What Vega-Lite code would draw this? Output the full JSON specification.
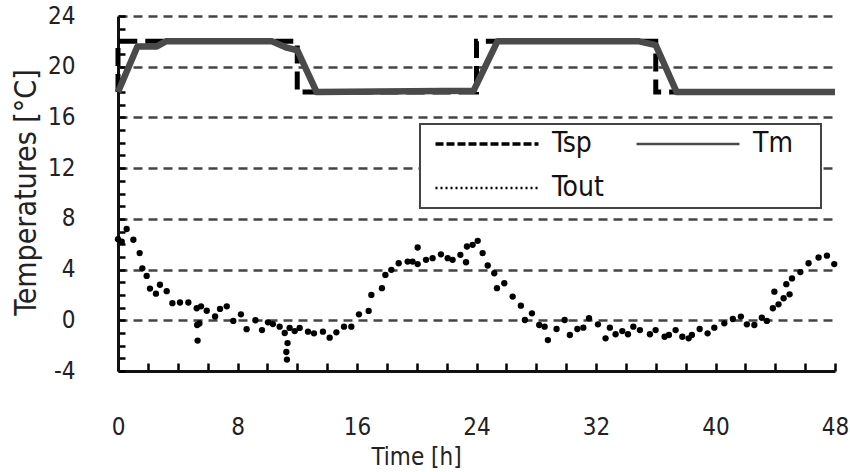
{
  "$schema": "https://vega.github.io/schema/vega-lite/v6.json",
  "width": 717,
  "height": 355,
  "autosize": {"type": "none"},
  "padding": {"left": 118, "top": 16, "right": 15, "bottom": 101},
  "background": "white",
  "config": {
    "view": {"stroke": null},
    "font": "DejaVu Sans Condensed",
    "axis": {"labelFont": "DejaVu Sans Condensed", "titleFont": "DejaVu Sans Condensed", "titleFontWeight": "normal"},
    "legend": {"symbolSize": 10609, "symbolType": "stroke", "symbolStrokeWidth": 3}
  },
  "datasets": {
    "tsp": [
      {"i": 0, "t": 0, "v": 18, "series": "Tsp"},
      {"i": 1, "t": 0, "v": 22, "series": "Tsp"},
      {"i": 2, "t": 12, "v": 22, "series": "Tsp"},
      {"i": 3, "t": 12, "v": 18, "series": "Tsp"},
      {"i": 4, "t": 24, "v": 18, "series": "Tsp"},
      {"i": 5, "t": 24, "v": 22, "series": "Tsp"},
      {"i": 6, "t": 36, "v": 22, "series": "Tsp"},
      {"i": 7, "t": 36, "v": 18, "series": "Tsp"},
      {"i": 8, "t": 48, "v": 18, "series": "Tsp"}
    ],
    "tm": [
      {"t": 0, "v": 18, "series": "Tm"},
      {"t": 1.3, "v": 21.6, "series": "Tm"},
      {"t": 2.6, "v": 21.6, "series": "Tm"},
      {"t": 3.2, "v": 22, "series": "Tm"},
      {"t": 10.3, "v": 22, "series": "Tm"},
      {"t": 11.3, "v": 21.5, "series": "Tm"},
      {"t": 12.0, "v": 21.3, "series": "Tm"},
      {"t": 13.3, "v": 18, "series": "Tm"},
      {"t": 23.8, "v": 18.1, "series": "Tm"},
      {"t": 25.4, "v": 22, "series": "Tm"},
      {"t": 34.9, "v": 22, "series": "Tm"},
      {"t": 36.0, "v": 21.7, "series": "Tm"},
      {"t": 37.4, "v": 18, "series": "Tm"},
      {"t": 48, "v": 18, "series": "Tm"}
    ],
    "tout": [
      {"t": 0.0, "v": 6.4}, {"t": 0.25, "v": 6.2}, {"t": 0.58, "v": 7.2}, {"t": 1.03, "v": 6.35},
      {"t": 1.45, "v": 5.3}, {"t": 1.63, "v": 4.1}, {"t": 1.92, "v": 3.5}, {"t": 2.14, "v": 2.5},
      {"t": 2.54, "v": 2.1}, {"t": 2.81, "v": 2.8}, {"t": 3.26, "v": 2.3}, {"t": 3.64, "v": 1.35},
      {"t": 4.15, "v": 1.4}, {"t": 4.71, "v": 1.4}, {"t": 5.27, "v": 0.95}, {"t": 5.56, "v": 1.1},
      {"t": 5.94, "v": 0.75}, {"t": 5.3, "v": -0.37}, {"t": 5.45, "v": -0.25}, {"t": 5.33, "v": -1.6},
      {"t": 6.5, "v": 0.3}, {"t": 6.83, "v": 0.9}, {"t": 7.28, "v": 1.1}, {"t": 7.72, "v": -0.05},
      {"t": 8.23, "v": 0.47}, {"t": 8.61, "v": -0.7}, {"t": 9.2, "v": 0.0}, {"t": 9.64, "v": -0.77},
      {"t": 10.04, "v": -0.16}, {"t": 10.37, "v": -0.3}, {"t": 10.82, "v": -0.5}, {"t": 11.16, "v": -1.0},
      {"t": 11.49, "v": -0.6}, {"t": 11.35, "v": -1.8}, {"t": 11.27, "v": -2.5}, {"t": 11.31, "v": -3.1},
      {"t": 11.83, "v": -0.85}, {"t": 12.16, "v": -0.6}, {"t": 12.72, "v": -0.9}, {"t": 13.12, "v": -1.03},
      {"t": 13.72, "v": -0.9}, {"t": 14.17, "v": -1.37}, {"t": 14.62, "v": -0.95}, {"t": 15.13, "v": -0.5},
      {"t": 15.62, "v": -0.5}, {"t": 16.13, "v": 0.47}, {"t": 16.78, "v": 0.74}, {"t": 16.96, "v": 2.0},
      {"t": 17.67, "v": 2.53}, {"t": 17.9, "v": 3.58}, {"t": 18.3, "v": 3.98}, {"t": 18.79, "v": 4.5},
      {"t": 19.39, "v": 4.63}, {"t": 19.72, "v": 4.63}, {"t": 20.06, "v": 4.43}, {"t": 20.06, "v": 5.74},
      {"t": 20.62, "v": 4.77}, {"t": 21.06, "v": 4.9}, {"t": 21.62, "v": 5.2}, {"t": 22.07, "v": 4.9},
      {"t": 22.4, "v": 4.77}, {"t": 22.92, "v": 5.16}, {"t": 23.3, "v": 4.58}, {"t": 23.36, "v": 5.82},
      {"t": 23.74, "v": 5.95}, {"t": 24.08, "v": 6.27}, {"t": 24.41, "v": 5.3}, {"t": 24.75, "v": 4.32},
      {"t": 25.19, "v": 3.71}, {"t": 25.37, "v": 2.53}, {"t": 25.86, "v": 2.92}, {"t": 26.42, "v": 1.87},
      {"t": 26.97, "v": 1.15}, {"t": 27.24, "v": 0.02}, {"t": 27.71, "v": 0.55}, {"t": 28.2, "v": -0.37},
      {"t": 28.56, "v": -0.5}, {"t": 28.78, "v": -1.56}, {"t": 29.36, "v": -0.69}, {"t": 29.9, "v": 0.02},
      {"t": 30.25, "v": -1.16}, {"t": 30.75, "v": -0.69}, {"t": 31.15, "v": -0.58}, {"t": 31.53, "v": 0.16},
      {"t": 32.13, "v": -0.32}, {"t": 32.64, "v": -1.42}, {"t": 32.93, "v": -0.58}, {"t": 33.31, "v": -1.1},
      {"t": 33.76, "v": -0.85}, {"t": 34.14, "v": -1.1}, {"t": 34.5, "v": -0.5}, {"t": 34.94, "v": -0.77},
      {"t": 35.61, "v": -1.1}, {"t": 35.99, "v": -0.77}, {"t": 36.59, "v": -1.3}, {"t": 36.88, "v": -1.16},
      {"t": 37.33, "v": -0.77}, {"t": 37.78, "v": -1.3}, {"t": 38.2, "v": -1.42}, {"t": 38.42, "v": -1.16},
      {"t": 38.94, "v": -0.69}, {"t": 39.47, "v": -1.03}, {"t": 39.92, "v": -0.58}, {"t": 40.59, "v": -0.24},
      {"t": 41.16, "v": 0.1}, {"t": 41.7, "v": 0.29}, {"t": 42.1, "v": -0.32}, {"t": 42.6, "v": -0.37},
      {"t": 43.1, "v": 0.2}, {"t": 43.44, "v": -0.05}, {"t": 43.84, "v": 0.95}, {"t": 44.22, "v": 1.26},
      {"t": 43.94, "v": 2.26}, {"t": 44.56, "v": 1.74}, {"t": 44.74, "v": 2.85}, {"t": 44.96, "v": 2.05},
      {"t": 45.12, "v": 3.3}, {"t": 45.68, "v": 3.8}, {"t": 46.23, "v": 4.5}, {"t": 46.9, "v": 4.95},
      {"t": 47.46, "v": 5.1}, {"t": 47.95, "v": 4.43}
    ]
  },
  "encoding": {
    "x": {
      "field": "t", "type": "quantitative",
      "scale": {"domain": [0, 48], "nice": false, "zero": false},
      "axis": {
        "values": [0, 2, 4, 6, 8, 10, 12, 14, 16, 18, 20, 22, 24, 26, 28, 30, 32, 34, 36, 38, 40, 42, 44, 46, 48],
        "labelExpr": "datum.value % 8 === 0 ? '' + datum.value : ''",
        "labelOverlap": false, "labelFlush": false,
        "labelFontSize": 24, "labelColor": "#222", "labelPadding": 52, "labelBaseline": "top",
        "tickSize": -8, "tickWidth": 2.5, "tickColor": "#000",
        "domainColor": "#111", "domainWidth": 3,
        "grid": false,
        "title": "Time [h]", "titleFontSize": 24, "titleColor": "#222",
        "titleX": 298, "titleY": 86, "titleBaseline": "middle", "titleAlign": "center", "titleAnchor": null
      }
    },
    "y": {
      "field": "v", "type": "quantitative",
      "scale": {"domain": [-4, 24], "nice": false, "zero": false},
      "axis": {
        "values": [-4, -3, -2, -1, 0, 1, 2, 3, 4, 5, 6, 7, 8, 9, 10, 11, 12, 13, 14, 15, 16, 17, 18, 19, 20, 21, 22, 23, 24],
        "labelExpr": "datum.value % 4 === 0 ? '' + datum.value : ''",
        "labelOverlap": false, "labelFlush": false,
        "labelFontSize": 24, "labelColor": "#222", "labelPadding": 50,
        "tickSize": -7, "tickWidth": 2.5, "tickColor": "#000",
        "domainColor": "#111", "domainWidth": 3,
        "grid": true, "gridColor": "#444", "gridWidth": 2.5, "gridDash": [9, 6],
        "gridOpacity": {"condition": {"test": "datum.value % 4 === 0 && datum.value > -4", "value": 1}, "value": 0},
        "title": "Temperatures [°C]", "titleFontSize": 30, "titleColor": "#222",
        "titleX": -92, "titleY": 176, "titleAngle": -90, "titleBaseline": "middle", "titleAlign": "center", "titleAnchor": null
      }
    }
  },
  "layer": [
    {
      "data": {"name": "tsp"},
      "mark": {"type": "line", "strokeDash": [18, 8], "strokeWidth": 5},
      "encoding": {
        "order": {"field": "i", "type": "quantitative"},
        "color": {
          "field": "series", "type": "nominal",
          "scale": {"domain": ["Tsp", "Tm", "Tout"], "range": ["#000000", "#4a4a4a", "#000000"]},
          "legend": {
            "orient": "none", "legendX": 302, "legendY": 108,
            "direction": "horizontal", "columns": 2, "gridAlign": "all",
            "title": "\u00a0", "titleOrient": "right", "titlePadding": 22, "titleFontSize": 28,
            "labelFont": "DejaVu Sans Condensed", "labelFontSize": 28, "labelColor": "#111",
            "labelOffset": 51, "labelLimit": 0,
            "columnPadding": 23, "rowPadding": 16, "padding": 6, "symbolOffset": 47,
            "strokeColor": "#444", "fillColor": "white",
            "encode": {
              "symbols": {"update": {
                "strokeWidth": {"signal": "datum.value === 'Tsp' ? 3.5 : 2.5"},
                "strokeDash": {"signal": "datum.value === 'Tsp' ? [8, 3] : datum.value === 'Tout' ? [2, 3] : [1, 0]"},
                "opacity": {"value": 1}
              }},
              "legend": {"update": {"strokeWidth": {"value": 2}}}
            }
          }
        }
      }
    },
    {
      "data": {"name": "tm"},
      "mark": {"type": "line", "strokeWidth": 6.5, "strokeJoin": "round"},
      "encoding": {
        "color": {"field": "series", "type": "nominal"}
      }
    },
    {
      "data": {"name": "tout"},
      "mark": {"type": "point", "filled": true, "size": 40, "color": "#000000", "opacity": 1}
    }
  ]
}
